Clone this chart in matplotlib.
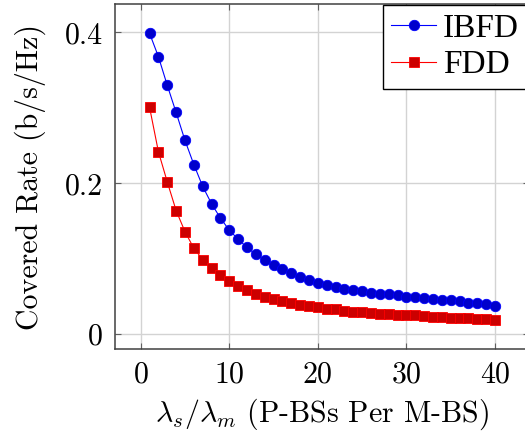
import matplotlib
matplotlib.use("Agg")
import matplotlib.pyplot as plt

plt.rcParams["font.family"] = "cmr10"
plt.rcParams["mathtext.fontset"] = "cm"
plt.rcParams["axes.unicode_minus"] = False
plt.rcParams["axes.formatter.use_mathtext"] = True

# P-BSs per M-BS
ratio = list(range(1, 41))

ibfd = [0.399, 0.368, 0.330, 0.294, 0.257, 0.225, 0.196, 0.173, 0.154, 0.138,
        0.126, 0.115, 0.106, 0.098, 0.092, 0.086, 0.081, 0.076, 0.072, 0.068,
        0.065, 0.062, 0.060, 0.058, 0.057, 0.055, 0.054, 0.053, 0.052, 0.050,
        0.049, 0.048, 0.047, 0.046, 0.045, 0.044, 0.042, 0.041, 0.040, 0.038]

fdd = [0.301, 0.242, 0.202, 0.164, 0.136, 0.114, 0.099, 0.088, 0.079, 0.071,
       0.064, 0.059, 0.054, 0.050, 0.047, 0.044, 0.042, 0.039, 0.038, 0.036,
       0.034, 0.033, 0.031, 0.030, 0.029, 0.028, 0.027, 0.027, 0.026, 0.025,
       0.025, 0.024, 0.023, 0.023, 0.022, 0.022, 0.021, 0.020, 0.020, 0.019]

xticks = [0, 10, 20, 30, 40]
yticks = [0, 0.2, 0.4]
ytick_labels = ["0", "0.2", "0.4"]

fig = plt.figure(figsize=(5.25, 4.33), dpi=100)
ax = fig.add_axes([115 / 525, 83.6 / 433, 414.5 / 525, 345.8 / 433])

ax.plot(ratio, ibfd, color="blue", linewidth=0.8, marker="o", markersize=7.5,
        markerfacecolor="#0000cc", markeredgecolor="blue", markeredgewidth=0.6,
        label="IBFD", zorder=3)
ax.plot(ratio, fdd, color="red", linewidth=0.8, marker="s", markersize=7.2,
        markerfacecolor="#cc0000", markeredgecolor="red", markeredgewidth=0.6,
        label="FDD", zorder=3)

ax.set_xlim(-2.9, 43.9)
ax.set_ylim(-0.0201, 0.4383)
ax.set_xticks(xticks)
ax.set_yticks(yticks)
ax.set_yticklabels(ytick_labels)
ax.grid(True, color="#d3d3d3", linewidth=1.0)
ax.set_axisbelow(True)
ax.tick_params(direction="in", length=4, width=0.8, color="#606060",
               top=True, right=True, labelsize=21.5)
ax.tick_params(axis="x", pad=8.5)
ax.tick_params(axis="y", pad=9)
for s in ax.spines.values():
    s.set_color("#404040")
    s.set_linewidth(1.1)

ax.set_xlabel(r"$\lambda_s/\lambda_m$ (P-BSs Per M-BS)", fontsize=21.5, labelpad=6)
ax.set_ylabel("Covered Rate (b/s/Hz)", fontsize=21.5, labelpad=13)

leg = ax.legend(loc="upper left", bbox_to_anchor=(383 / 525, 1 - 5 / 433),
                bbox_transform=fig.transFigure, borderaxespad=0,
                prop={"family": "Liberation Serif", "size": 24},
                fancybox=False, edgecolor="black", framealpha=1,
                handlelength=1.35, handletextpad=0.2, labelspacing=0.18,
                borderpad=0.25)
leg.get_frame().set_linewidth(1.0)

fig.savefig("out.png", dpi=100)
